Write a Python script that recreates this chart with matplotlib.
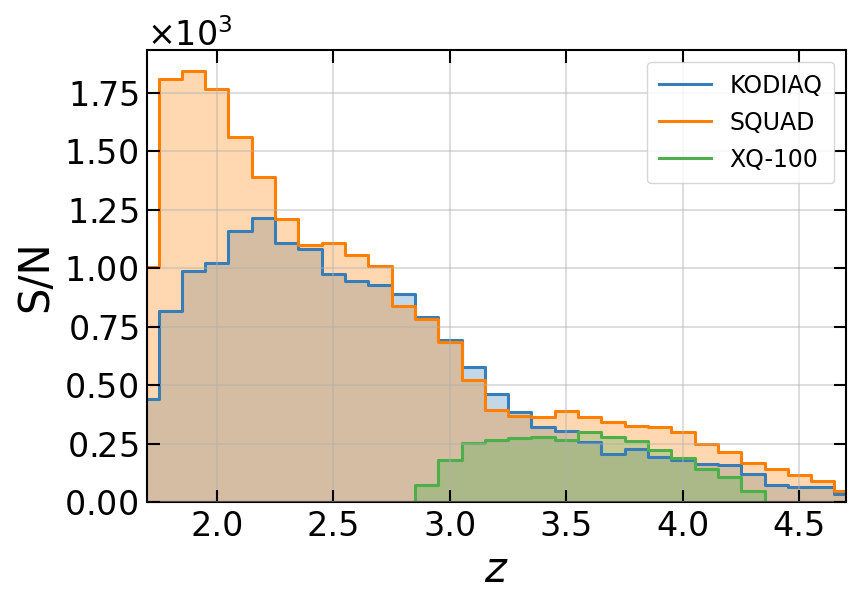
import numpy as np
import matplotlib
matplotlib.use("Agg")
import matplotlib.pyplot as plt
from matplotlib.ticker import ScalarFormatter

z = np.round(np.arange(1.7, 4.71, 0.1), 2)

kodiaq = [442, 815, 988, 1021, 1157, 1213, 1107, 1080, 977, 946, 930, 891,
          791, 691, 579, 462, 385, 319, 302, 258, 205, 226, 192, 180, 162,
          157, 119, 72, 64, 64, 33]
squad = [1006, 1807, 1841, 1767, 1561, 1388, 1209, 1100, 1109, 1056, 1011,
         838, 784, 684, 522, 394, 366, 365, 388, 365, 343, 323, 319, 301,
         250, 215, 166, 140, 115, 90, 47]
xq100 = [0, 0, 0, 0, 0, 0, 0, 0, 0, 0, 0, 0,
         73, 180, 252, 265, 273, 278, 266, 299, 278, 262, 223, 190, 143,
         107, 47, 0, 0, 0, 0]

labels = ["KODIAQ", "SQUAD", "XQ-100"]
colors = ["#377eb8", "#ff7f00", "#4daf4a"]
series = [kodiaq, squad, xq100]

fig = plt.figure(figsize=(8.59, 6.06), dpi=100)
ax = fig.add_axes([0.171, 0.1716, 0.814, 0.746])

for lab, col, vals in zip(labels, colors, series):
    ax.fill_between(z, vals, step="mid", color=col, alpha=0.3, linewidth=0)
    ax.step(z, vals, where="mid", color=col, lw=2.2, label=lab)

ax.set_xlim(z[0], z[-1])
ax.set_ylim(0, None)
ax.set_xticks([2.0, 2.5, 3.0, 3.5, 4.0, 4.5])
ax.set_yticks(np.arange(0, 1751, 250))

fmt = ScalarFormatter(useMathText=True)
fmt.set_powerlimits((0, 0))
ax.yaxis.set_major_formatter(fmt)
ax.yaxis.get_offset_text().set_fontsize(24)

ax.tick_params(direction="in", which="both", top=True, right=True,
               length=9, width=1.5, labelsize=24, pad=6)
ax.set_xticklabels(["2.0", "2.5", "3.0", "3.5", "4.0", "4.5"])
ax.grid(True, color="#b0b0b0", alpha=0.5, lw=1.2)
ax.set_axisbelow(False)
for sp in ax.spines.values():
    sp.set_linewidth(1.5)

ax.set_xlabel("$z$", fontsize=30, labelpad=4)
ax.set_ylabel("S/N", fontsize=30, labelpad=6)
ax.legend(loc="upper right", fontsize=17, handlelength=2.2,
          labelspacing=0.55, borderpad=0.5)

fig.savefig("out.png", dpi=100)
